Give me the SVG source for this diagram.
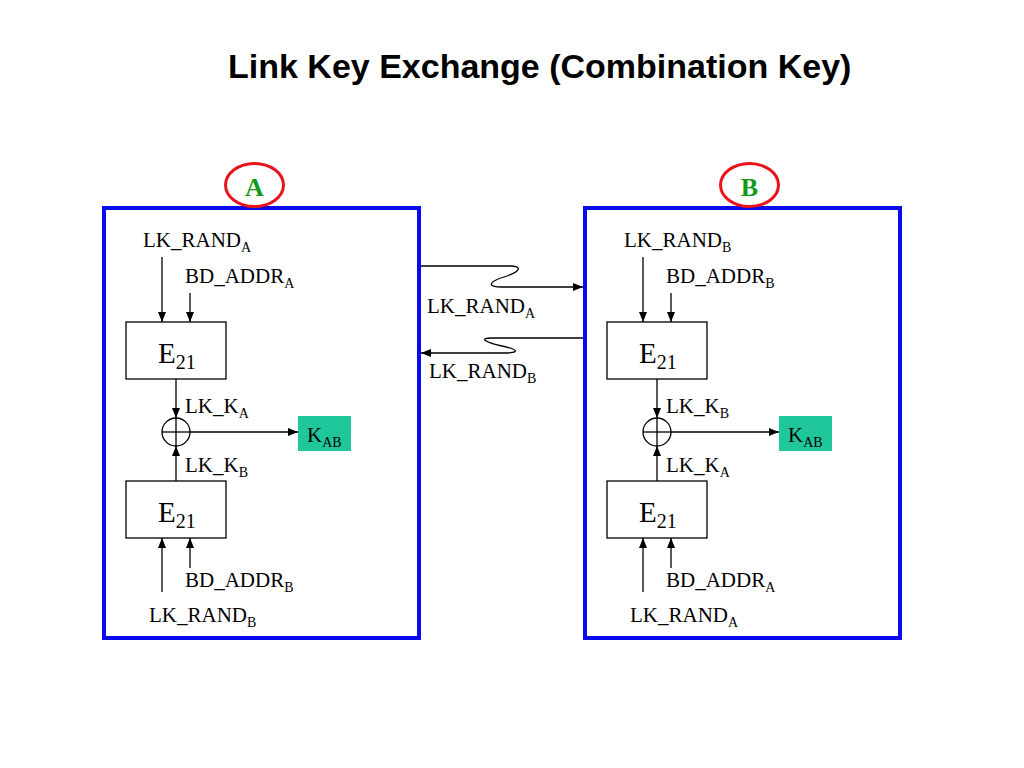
<svg xmlns="http://www.w3.org/2000/svg" width="1024" height="768" viewBox="0 0 1024 768">
<defs>
<marker id="ah" markerUnits="userSpaceOnUse" markerWidth="10" markerHeight="10" viewBox="0 0 10 10" refX="10" refY="5" orient="auto">
<path d="M0,1 L10,5 L0,9 Z" fill="#000"/>
</marker>
<style>
.t{font-family:"Liberation Serif","Times New Roman",serif;font-size:21px;fill:#000}
.s{font-size:14px}
.e{font-family:"Liberation Serif","Times New Roman",serif;font-size:29px;fill:#000}
.es{font-size:20px}
.frame{fill:none;stroke:#0a0af0;stroke-width:4}
.blk{fill:#fff;stroke:#000;stroke-width:1.3}
.ln{fill:none;stroke:#000;stroke-width:1.3}
.arr{fill:none;stroke:#000;stroke-width:1.3;marker-end:url(#ah)}
.kab{fill:#1fc79a}
.oval{fill:#fff;stroke:#e8141c;stroke-width:3}
.lbl{font-family:"Liberation Serif","Times New Roman",serif;font-size:26px;font-weight:bold;fill:#0f9a1a}
</style>
</defs>
<rect width="1024" height="768" fill="#fff"/>
<text x="228" y="78" font-family="Liberation Sans, Arial, sans-serif" font-size="34" font-weight="bold" fill="#000">Link Key Exchange (Combination Key)</text>

<g id="deviceA">
<rect class="frame" x="104" y="208" width="315" height="430"/>
<ellipse class="oval" cx="254.5" cy="185" rx="29" ry="21.5"/>
<text class="lbl" x="254.5" y="196" text-anchor="middle">A</text>
</g>
<g id="deviceB">
<rect class="frame" x="585" y="208" width="315" height="430"/>
<ellipse class="oval" cx="749.5" cy="185" rx="29" ry="21.5"/>
<text class="lbl" x="749.5" y="196" text-anchor="middle">B</text>
</g>

<g id="A-E21-top"><rect class="blk" x="126" y="322" width="100" height="57"/><text class="e" x="158" y="363">E<tspan class="es" dy="6">21</tspan></text></g>
<g id="A-E21-bottom"><rect class="blk" x="126" y="481" width="100" height="57"/><text class="e" x="158" y="522">E<tspan class="es" dy="6">21</tspan></text></g>
<g id="A-xor"><circle class="ln" cx="176" cy="432" r="14"/><line class="ln" x1="162" y1="432" x2="190" y2="432"/><line class="ln" x1="176" y1="418" x2="176" y2="446"/></g>
<g id="A-KAB"><rect class="kab" x="298" y="416" width="53" height="35"/><text class="t" x="307" y="442">K<tspan class="s" dy="5">AB</tspan></text></g>

<g id="B-E21-top"><rect class="blk" x="607" y="322" width="100" height="57"/><text class="e" x="639" y="363">E<tspan class="es" dy="6">21</tspan></text></g>
<g id="B-E21-bottom"><rect class="blk" x="607" y="481" width="100" height="57"/><text class="e" x="639" y="522">E<tspan class="es" dy="6">21</tspan></text></g>
<g id="B-xor"><circle class="ln" cx="657" cy="432" r="14"/><line class="ln" x1="643" y1="432" x2="671" y2="432"/><line class="ln" x1="657" y1="418" x2="657" y2="446"/></g>
<g id="B-KAB"><rect class="kab" x="779" y="416" width="53" height="35"/><text class="t" x="788" y="442">K<tspan class="s" dy="5">AB</tspan></text></g>

<g id="connectors">
<line class="arr" x1="162" y1="257" x2="162" y2="322"/>
<line class="arr" x1="190" y1="293" x2="190" y2="322"/>
<line class="arr" x1="176" y1="379" x2="176" y2="418"/>
<line class="arr" x1="176" y1="481" x2="176" y2="446"/>
<line class="arr" x1="190" y1="432" x2="298" y2="432"/>
<line class="arr" x1="162" y1="592" x2="162" y2="538"/>
<line class="arr" x1="190" y1="568" x2="190" y2="538"/>

<line class="arr" x1="643" y1="257" x2="643" y2="322"/>
<line class="arr" x1="671" y1="293" x2="671" y2="322"/>
<line class="arr" x1="657" y1="379" x2="657" y2="418"/>
<line class="arr" x1="657" y1="481" x2="657" y2="446"/>
<line class="arr" x1="671" y1="432" x2="779" y2="432"/>
<line class="arr" x1="643" y1="592" x2="643" y2="538"/>
<line class="arr" x1="671" y1="568" x2="671" y2="538"/>

<path class="arr" d="M421,266 H510 C522,266 521,271 507,276 C487,282 487,287 502,287 H583"/>
<path class="arr" d="M583,338 H492 C479,338 484,342 502,346 C520,350 519,353 504,353 H421"/>
</g>

<g id="labels">
<text class="t" x="143" y="247">LK_RAND<tspan class="s" dy="5">A</tspan></text>
<text class="t" x="185" y="283">BD_ADDR<tspan class="s" dy="5">A</tspan></text>
<text class="t" x="185" y="413">LK_K<tspan class="s" dy="5">A</tspan></text>
<text class="t" x="185" y="472">LK_K<tspan class="s" dy="5">B</tspan></text>
<text class="t" x="185" y="587">BD_ADDR<tspan class="s" dy="5">B</tspan></text>
<text class="t" x="149" y="622">LK_RAND<tspan class="s" dy="5">B</tspan></text>

<text class="t" x="624" y="247">LK_RAND<tspan class="s" dy="5">B</tspan></text>
<text class="t" x="666" y="283">BD_ADDR<tspan class="s" dy="5">B</tspan></text>
<text class="t" x="666" y="413">LK_K<tspan class="s" dy="5">B</tspan></text>
<text class="t" x="666" y="472">LK_K<tspan class="s" dy="5">A</tspan></text>
<text class="t" x="666" y="587">BD_ADDR<tspan class="s" dy="5">A</tspan></text>
<text class="t" x="630" y="622">LK_RAND<tspan class="s" dy="5">A</tspan></text>

<text class="t" x="427" y="313">LK_RAND<tspan class="s" dy="5">A</tspan></text>
<text class="t" x="429" y="378">LK_RAND<tspan class="s" dy="5">B</tspan></text>
</g>
</svg>
